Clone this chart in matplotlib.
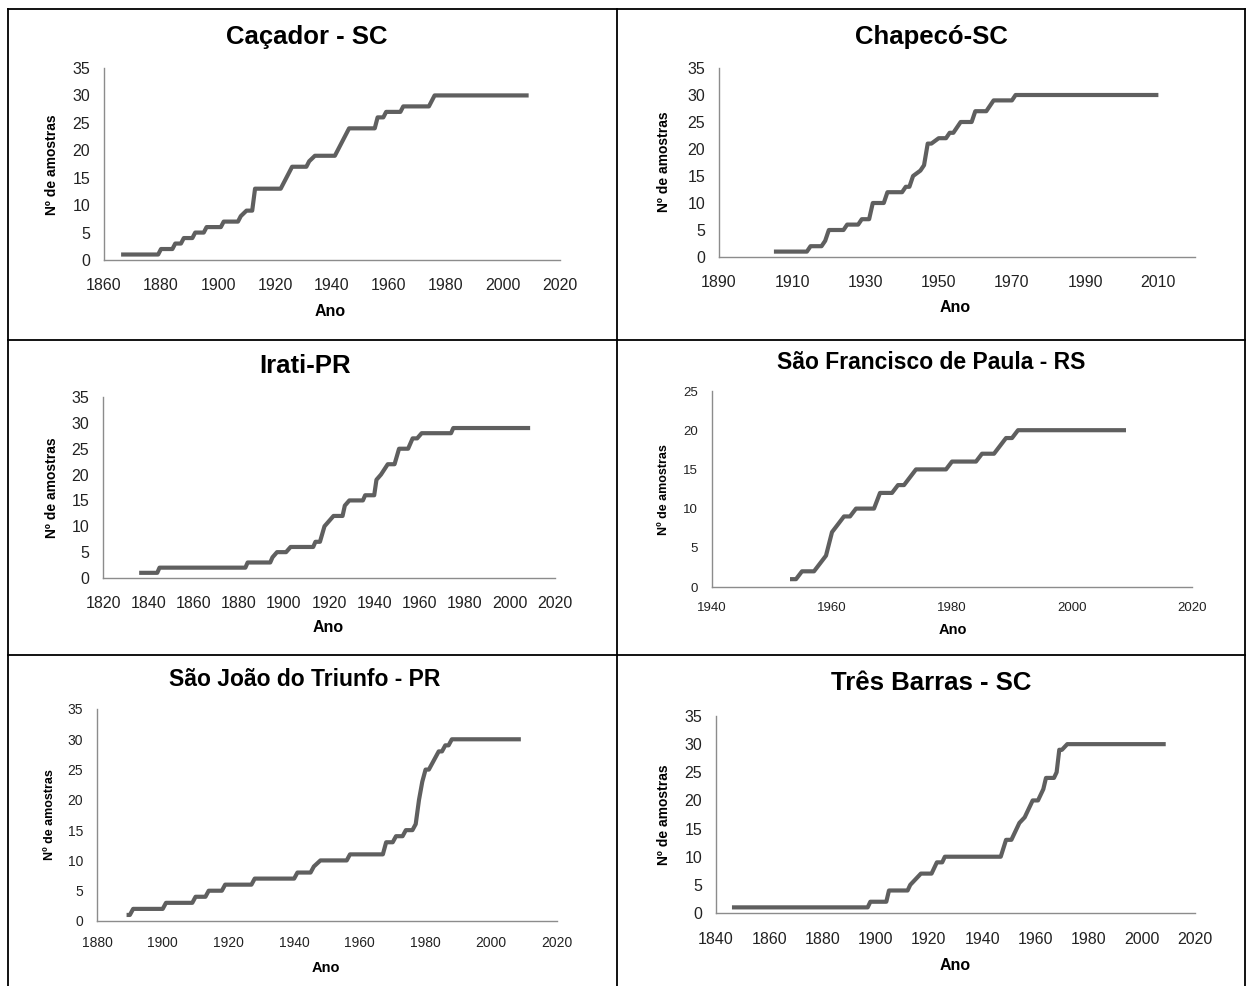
import numpy as np
import matplotlib
matplotlib.use("Agg")
import matplotlib.pyplot as plt
from matplotlib.lines import Line2D

plt.rcParams['font.family'] = ['Liberation Sans', 'DejaVu Sans']

# Data (year, cumulative number of samples)
cacador_x = [1866, 1879, 1880, 1884, 1885, 1887, 1888, 1891, 1892, 1895, 1896, 1901, 1902, 1907,
             1908, 1910, 1912, 1913, 1922, 1924, 1926, 1931, 1932, 1934, 1941, 1943, 1944, 1946,
             1955, 1956, 1958, 1959, 1964, 1965, 1974, 1976, 2009]
cacador_y = [1, 1, 2, 2, 3, 3, 4, 4, 5, 5, 6, 6, 7, 7,
             8, 9, 9, 13, 13, 15, 17, 17, 18, 19, 19, 21, 22, 24,
             24, 26, 26, 27, 27, 28, 28, 30, 30]

chapeco_x = [1905, 1914, 1915, 1918, 1919, 1920, 1924, 1925, 1928, 1929, 1931, 1932, 1935, 1936,
             1940, 1941, 1942, 1943, 1945, 1946, 1947, 1948, 1950, 1952, 1953, 1954, 1956, 1959,
             1960, 1963, 1965, 1970, 1971, 2010]
chapeco_y = [1, 1, 2, 2, 3, 5, 5, 6, 6, 7, 7, 10, 10, 12,
             12, 13, 13, 15, 16, 17, 21, 21, 22, 22, 23, 23, 25, 25,
             27, 27, 29, 29, 30, 30]

irati_x = [1836, 1844, 1845, 1883, 1884, 1894, 1895, 1897, 1901, 1903, 1913, 1914, 1916, 1918,
           1920, 1922, 1926, 1927, 1929, 1935, 1936, 1940, 1941, 1943, 1946, 1949, 1951, 1955,
           1957, 1959, 1961, 1974, 1975, 2009]
irati_y = [1, 1, 2, 2, 3, 3, 4, 5, 5, 6, 6, 7, 7, 10,
           11, 12, 12, 14, 15, 15, 16, 16, 19, 20, 22, 22, 25, 25,
           27, 27, 28, 28, 29, 29]

sfp_x = [1953, 1954, 1955, 1957, 1959, 1960, 1961, 1962, 1963, 1964, 1967, 1968, 1970, 1971,
         1972, 1974, 1979, 1980, 1984, 1985, 1987, 1989, 1990, 1991, 2009]
sfp_y = [1, 1, 2, 2, 4, 7, 8, 9, 9, 10, 10, 12, 12, 13,
         13, 15, 15, 16, 16, 17, 17, 19, 19, 20, 20]

sjt_x = [1889, 1890, 1891, 1900, 1901, 1909, 1910, 1913, 1914, 1918, 1919, 1927, 1928, 1940,
         1941, 1945, 1946, 1948, 1956, 1957, 1967, 1968, 1970, 1971, 1973, 1974, 1976, 1977,
         1978, 1979, 1980, 1981, 1983, 1984, 1985, 1986, 1987, 1988, 2009]
sjt_y = [1, 1, 2, 2, 3, 3, 4, 4, 5, 5, 6, 6, 7, 7,
         8, 8, 9, 10, 10, 11, 11, 13, 13, 14, 14, 15, 15, 16,
         20, 23, 25, 25, 27, 28, 28, 29, 29, 30, 30]

tb_x = [1846, 1897, 1898, 1904, 1905, 1912, 1913, 1915, 1917, 1921, 1923, 1925, 1926, 1947,
        1949, 1951, 1952, 1954, 1956, 1957, 1959, 1961, 1963, 1964, 1967, 1968, 1969, 1970,
        1972, 2009]
tb_y = [1, 1, 2, 2, 4, 4, 5, 6, 7, 7, 9, 9, 10, 10,
        13, 13, 14, 16, 17, 18, 20, 20, 22, 24, 24, 25, 29, 29,
        30, 30]

titles = ['Caçador - SC', 'Chapecó-SC', 'Irati-PR', 'São Francisco de Paula - RS',
          'São João do Triunfo - PR', 'Três Barras - SC']

W, H = 1247, 986
fig = plt.figure(figsize=(W / 100, H / 100), dpi=100)

def px_axes(left, top, right, bottom):
    return fig.add_axes([left / W, 1 - bottom / H, (right - left) / W, (bottom - top) / H])

# panel: data, axes box in pixels, x limits/ticks, y max, tick size, label size, title size,
# x tick pad, title/label positions
panels = [
    (cacador_x, cacador_y, (104, 68, 560, 260), (1860, 2020, 20), 35, 11.5, 10, 18.5, 13, (307, 37), (330, 312), (52, 165)),
    (chapeco_x, chapeco_y, (719, 68, 1195, 257), (1890, 2020, 20), 35, 11.5, 10, 18.5, 13, (931, 37), (955, 308), (664, 162)),
    (irati_x, irati_y, (103, 397, 555, 578), (1820, 2020, 20), 35, 11.5, 10, 18.5, 13, (305, 366), (328, 628), (52, 488)),
    (sfp_x, sfp_y, (712, 391, 1192, 587), (1940, 2020, 20), 25, 9.5, 9, 16.5, 10.5, (931, 363), (953, 630), (664, 490)),
    (sjt_x, sjt_y, (97, 709, 557, 921), (1880, 2020, 20), 35, 10, 9, 16.5, 11, (305, 680), (326, 968), (50, 815)),
    (tb_x, tb_y, (716, 716, 1195, 913), (1840, 2020, 20), 35, 11.5, 10, 18.5, 14, (931, 683), (955, 966), (664, 815)),
]

for (xs, ys, box, xr, ymax, tfs, yfs, ttl, xpad, tpos, xlpos, ylpos), title in zip(panels, titles):
    ax = px_axes(*box)
    ax.plot(xs, ys, color='#5f5f5f', lw=3.0, solid_capstyle='butt', solid_joinstyle='round')
    ax.set_xlim(xr[0], xr[1])
    ax.set_ylim(0, ymax)
    ax.set_xticks(np.arange(xr[0], xr[1] + 1, xr[2]))
    ax.set_yticks(np.arange(0, ymax + 1, 5))
    for s in ['top', 'right']:
        ax.spines[s].set_visible(False)
    for s in ['left', 'bottom']:
        ax.spines[s].set_color('#8c8c8c')
        ax.spines[s].set_linewidth(1.0)
    ax.tick_params(length=0, labelsize=tfs, colors='#222222')
    ax.tick_params(axis='x', pad=xpad)
    ax.tick_params(axis='y', pad=10)
    fig.text(tpos[0] / W, 1 - tpos[1] / H, title, ha='center', va='center',
             fontsize=ttl, fontweight='bold')
    fig.text(xlpos[0] / W, 1 - xlpos[1] / H, 'Ano', ha='center', va='center',
             fontsize=yfs + 1.5, fontweight='bold')
    fig.text(ylpos[0] / W, 1 - ylpos[1] / H, 'Nº de amostras', ha='center', va='center',
             rotation=90, fontsize=yfs, fontweight='bold')

# panel borders
border = dict(color='black', lw=1.3, transform=fig.transFigure)
for xa, ya in [((8, 1245), (9, 9)), ((8, 8), (9, 986)), ((1245, 1245), (9, 986)),
               ((617, 617), (9, 986)), ((8, 1245), (340, 340)), ((8, 1245), (655, 655))]:
    fig.add_artist(Line2D([xa[0] / W, xa[1] / W], [1 - ya[0] / H, 1 - ya[1] / H], **border))

fig.savefig('out.png', dpi=100, facecolor='white')
